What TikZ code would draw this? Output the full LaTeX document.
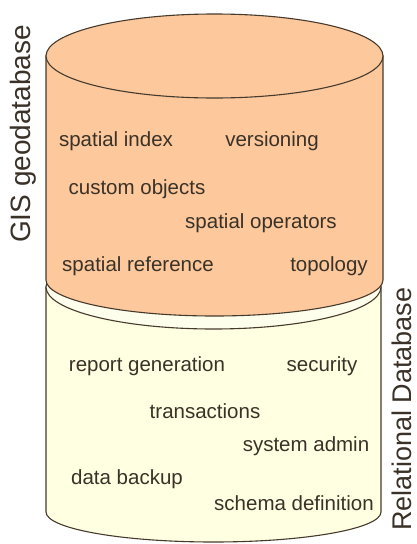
\documentclass[tikz,border=0pt]{standalone}
\usepackage{fontspec}
\setmainfont{Liberation Sans}
\definecolor{orangefill}{RGB}{252,200,156}
\definecolor{yellowfill}{RGB}{255,255,226}
\definecolor{yellowtop}{RGB}{253,254,236}
\definecolor{edgecol}{RGB}{70,58,44}
\definecolor{txtcol}{RGB}{58,50,40}
\tikzset{
  edge/.style={draw=edgecol, line width=1.1pt},
  lbl/.style={text=txtcol, inner sep=0pt, font=\fontsize{20.5}{24}\selectfont},
  vlbl/.style={text=txtcol, inner sep=0pt, rotate=90, text height=20.2pt, font=\fontsize{28}{32}\selectfont},
}
\begin{document}
\begin{tikzpicture}[x=1pt,y=-1pt]
\useasboundingbox (0,0) rectangle (417,544);
% lower cylinder (relational database)
\path[edge, fill=yellowfill] (46,287) -- (46,512)
   arc[start angle=180, end angle=0, x radius=167.5, y radius=30] -- (381,287) -- cycle;
\path[edge, fill=yellowtop] (213.5,287) ellipse[x radius=167.5, y radius=42];
% upper cylinder (GIS geodatabase)
\path[edge, fill=orangefill] (46,56) -- (46,280)
   arc[start angle=180, end angle=0, x radius=168.5, y radius=36] -- (383,56) -- cycle;
\path[edge, fill=orangefill] (214.5,56) ellipse[x radius=168.5, y radius=42];
% labels upper
\node[lbl] (si) at (116,141) {spatial index};
\node[lbl] (ve) at (272,141) {versioning};
\node[lbl] (co) at (137,189) {custom objects};
\node[lbl] (so) at (261,223) {spatial operators};
\node[lbl] (sr) at (138,266) {spatial reference};
\node[lbl] (to) at (329,266) {topology};
% labels lower
\node[lbl] (rg) at (147,366) {report generation};
\node[lbl] (se) at (322,366) {security};
\node[lbl] (tr) at (205,411) {transactions};
\node[lbl] (sa) at (306,446) {system admin};
\node[lbl] (db) at (127,479) {data backup};
\node[lbl] (sd) at (294,503) {schema definition};
% side labels
\node[vlbl, text depth=5.9pt] (gis) at (23,134) {GIS geodatabase};
\node[vlbl, text depth=0pt, font=\fontsize{27}{31}\selectfont] (rel) at (401.5,409) {Relational Database};
\end{tikzpicture}
\end{document}
